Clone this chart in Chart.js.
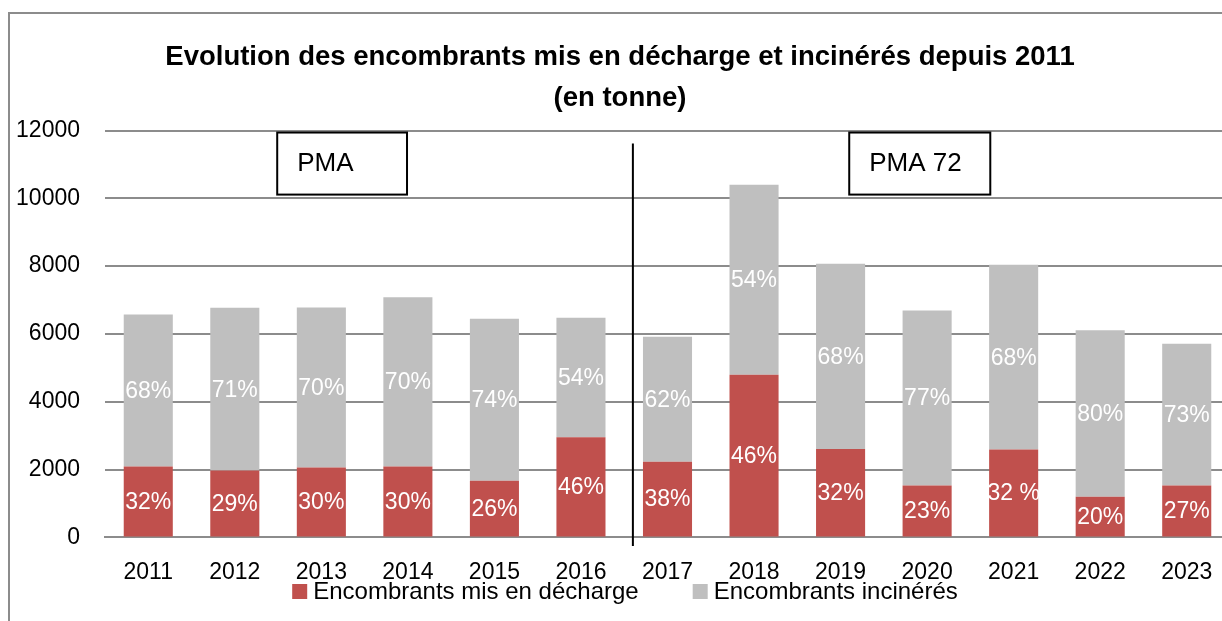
<!DOCTYPE html>
<html>
<head>
<meta charset="utf-8">
<script src="https://cdn.jsdelivr.net/npm/chart.js@4"></script>
<style>
  html, body { margin: 0; padding: 0; background: #fff; overflow: hidden; }
  #frame { position: absolute; left: 8px; top: 12px; width: 1300px; height: 700px;
           border-left: 2px solid #8c8c8c; border-top: 2px solid #8c8c8c; }
  #wrap { position: absolute; left: 0; top: 0; }
</style>
</head>
<body>
<div id="frame"></div>
<div id="wrap"><canvas id="encombrants" width="1240" height="621"></canvas></div>
<script>
// values (tonnes)
const years = ['2011', '2012', '2013', '2014', '2015', '2016', '2017', '2018', '2019', '2020', '2021', '2022', '2023'];
const decharge = [2090, 1970, 2060, 2090, 1670, 2950, 2230, 4800, 2610, 1530, 2590, 1200, 1530];
const incineres = [4480, 4800, 4720, 4990, 4780, 3530, 3690, 5600, 5460, 5160, 5450, 4910, 4180];
const dechargePct = ['32%', '29%', '30%', '30%', '26%', '46%', '38%', '46%', '32%', '23%', '32 %', '20%', '27%'];
const incineresPct = ['68%', '71%', '70%', '70%', '74%', '54%', '62%', '54%', '68%', '77%', '68%', '80%', '73%'];
const seriesNames = ['Encombrants mis en décharge', 'Encombrants incinérés'];
const titleLines = ['Evolution des encombrants mis en décharge et incinérés depuis 2011', '(en tonne)'];

const FONT = "'Liberation Sans', Arial, sans-serif";
const RED = '#c0504d';
const GREY = '#bfbfbf';

// white percentages in the middle of each segment
const pctLabels = {
  id: 'pctLabels',
  afterDatasetsDraw(chart) {
    const ctx = chart.ctx;
    const texts = [dechargePct, incineresPct];
    ctx.save();
    ctx.font = '23px ' + FONT;
    ctx.fillStyle = '#fff';
    ctx.textAlign = 'center';
    ctx.textBaseline = 'middle';
    chart.data.datasets.forEach((ds, d) => {
      chart.getDatasetMeta(d).data.forEach((bar, i) => {
        ctx.fillText(texts[d][i], bar.x, (bar.y + bar.base) / 2 + 1);
      });
    });
    ctx.restore();
  }
};

// separator between the two periods + the PMA / PMA 72 boxes
const periods = {
  id: 'periods',
  afterDatasetsDraw(chart) {
    const ctx = chart.ctx;
    const x = chart.scales.x, y = chart.scales.y;
    ctx.save();
    ctx.strokeStyle = '#000';
    ctx.lineWidth = 2;
    ctx.beginPath();
    ctx.moveTo(x.getPixelForValue(5.6), y.getPixelForValue(11620));
    ctx.lineTo(x.getPixelForValue(5.6), y.getPixelForValue(-250));
    ctx.stroke();

    const boxes = [
      { text: 'PMA', from: 1.49, to: 2.99 },
      { text: 'PMA 72', from: 8.10, to: 9.73 }
    ];
    ctx.font = '26px ' + FONT;
    ctx.textBaseline = 'middle';
    boxes.forEach(b => {
      const x0 = x.getPixelForValue(b.from), x1 = x.getPixelForValue(b.to);
      const y0 = y.getPixelForValue(11940), y1 = y.getPixelForValue(10110);
      ctx.fillStyle = '#fff';
      ctx.fillRect(x0, y0, x1 - x0, y1 - y0);
      ctx.strokeRect(x0, y0, x1 - x0, y1 - y0);
      ctx.fillStyle = '#000';
      ctx.fillText(b.text, x0 + 20, (y0 + y1) / 2);
    });
    ctx.restore();
  }
};

// legend drawn by hand, squeezed under the year labels like in the original
const bottomLegend = {
  id: 'bottomLegend',
  afterDraw(chart) {
    const ctx = chart.ctx;
    ctx.save();
    ctx.font = '24px ' + FONT;
    ctx.textBaseline = 'alphabetic';
    const box = 15, gap = 6, between = 54;
    const items = chart.data.datasets.map(ds => ({ text: ds.label, color: ds.backgroundColor }));
    const total = items.reduce((s, it) => s + box + gap + ctx.measureText(it.text).width, 0) + between * (items.length - 1);
    let cx = 625 - total / 2;
    items.forEach(it => {
      ctx.fillStyle = it.color;
      ctx.fillRect(cx, 584, box, box);
      ctx.fillStyle = '#000';
      ctx.fillText(it.text, cx + box + gap, 599);
      cx += box + gap + ctx.measureText(it.text).width + between;
    });
    ctx.restore();
  }
};

const ctx = document.getElementById('encombrants').getContext('2d');
new Chart(ctx, {
  type: 'bar',
  data: {
    labels: years,
    datasets: [{
      label: seriesNames[0],
      data: decharge,
      backgroundColor: RED,
      borderWidth: 0
    }, {
      label: seriesNames[1],
      data: incineres,
      backgroundColor: GREY,
      borderWidth: 0
    }]
  },
  options: {
    responsive: false,
    animation: false,
    categoryPercentage: 1,
    barPercentage: 0.567,
    layout: { padding: { left: 10, right: 10, top: 0, bottom: 22 } },
    plugins: {
      legend: { display: false },
      tooltip: { enabled: false },
      title: {
        display: true,
        text: titleLines,
        color: '#000',
        font: { family: FONT, size: 27.5, weight: 'bold', lineHeight: 1.5 },
        padding: { top: 37, bottom: 11 }
      }
    },
    scales: {
      x: {
        stacked: true,
        grid: { display: false },
        border: { display: true, color: '#8c8c8c', width: 2 },
        ticks: { color: '#000', font: { family: FONT, size: 23 }, padding: 13, maxRotation: 0, autoSkip: false }
      },
      y: {
        stacked: true,
        min: 0,
        max: 12000,
        border: { display: false },
        grid: { color: '#8c8c8c', lineWidth: 2, drawTicks: false },
        ticks: {
          stepSize: 2000,
          color: '#000',
          font: { family: FONT, size: 23 },
          padding: 25,
          callback: v => String(v)
        },
        afterFit(scale) { scale.width = 95; }
      }
    }
  },
  plugins: [pctLabels, periods, bottomLegend]
});
</script>
</body>
</html>
